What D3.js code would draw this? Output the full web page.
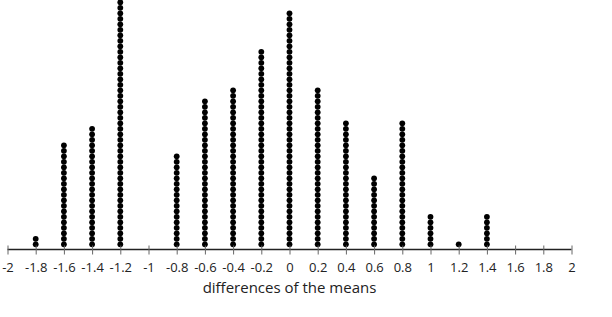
<!DOCTYPE html>
<html>
<head>
<meta charset="utf-8">
<script src="https://cdn.jsdelivr.net/npm/d3@7"></script>
<style>
  body { margin: 0; background: #fff; }
  svg { display: block; font-family: "Open Sans", sans-serif; }
</style>
</head>
<body>
<svg id="chart" width="612" height="317"></svg>
<script>
// values of the differences and how many dots sit over each
var diffs  = [-1.8, -1.6, -1.4, -1.2, -0.8, -0.6, -0.4, -0.2, 0, 0.2, 0.4, 0.6, 0.8, 1, 1.2, 1.4];
var counts = [2, 19, 22, 45, 17, 27, 29, 36, 43, 29, 23, 13, 23, 6, 1, 6];
var tickVals = [-2, -1.8, -1.6, -1.4, -1.2, -1, -0.8, -0.6, -0.4, -0.2, 0, 0.2, 0.4, 0.6, 0.8, 1, 1.2, 1.4, 1.6, 1.8, 2];
var axisTitle = "differences of the means";

var svg = d3.select("#chart");
var axisY = 249.5;

var x = d3.scaleLinear().domain([-2, 2]).range([7.5, 571.5]);
// stack position -> pixel
var y = d3.scaleLinear().domain([0, 1]).range([244.3, 238.8]);

// build one record per dot
var dots = [];
diffs.forEach(function (v, i) {
    for (var k = 0; k < counts[i]; k++) dots.push({ v: v, k: k });
});

svg.selectAll("circle.dot")
    .data(dots)
    .enter()
    .append("circle")
    .attr("class", "dot")
    .attr("cx", function (d) { return x(d.v); })
    .attr("cy", function (d) { return y(d.k); })
    .attr("r", 2.9)
    .attr("fill", "#000");

var axis = d3.axisBottom(x)
    .tickValues(tickVals)
    .tickSize(5)
    .tickPadding(8)
    .tickFormat(function (d) { return String(+d.toFixed(1)); });

var g = svg.append("g")
    .attr("transform", "translate(0," + axisY + ")")
    .call(axis);

g.select(".domain")
    .attr("d", "M" + x(-2) + ",0H" + x(2))
    .attr("stroke", "#222")
    .attr("stroke-width", 1.4);
g.selectAll(".tick line")
    .attr("y1", -4)
    .attr("y2", 5)
    .attr("stroke", "#666");
g.selectAll(".tick text")
    .attr("font-size", 13)
    .attr("font-family", "Open Sans")
    .attr("fill", "#222");

svg.append("text")
    .attr("x", x(0))
    .attr("y", 293)
    .attr("text-anchor", "middle")
    .attr("font-size", 15)
    .attr("fill", "#222")
    .text(axisTitle);
</script>
</body>
</html>
